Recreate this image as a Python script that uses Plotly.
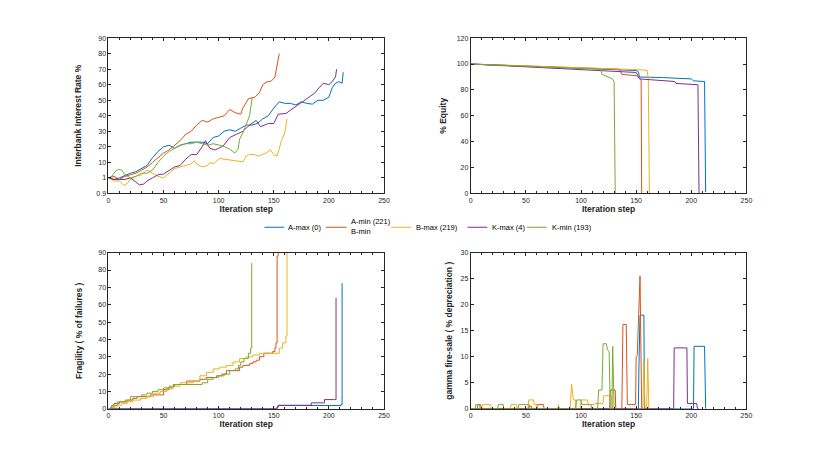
import plotly.graph_objects as go
from plotly.subplots import make_subplots

# series names / colours (MATLAB default order)
names = ["A-max (0)", "A-min (221)<br>B-min", "B-max (219)", "K-max (4)", "K-min (193)"]
colors = ["#0072BD", "#D95319", "#EDB120", "#7E2F8E", "#77AC30"]

# ---- interbank interest rate (axis position units, tick 0 is labelled "1")
rate_x_amax = [0, 5, 10, 15, 20, 25, 30, 35, 40, 45, 50, 55, 60, 65, 70, 75, 80, 85, 90, 95, 100, 105, 110,
               115, 120, 125, 130, 135, 140, 145, 150, 155, 160, 165, 170, 175, 180, 185, 190, 195, 200, 203,
               206, 209, 212, 213]
rate_y_amax = [0, -1, 0, 1.7, 3, 4, 6, 8, 13, 17, 20, 21, 19, 21, 22, 23, 23, 23, 22, 26, 27, 30, 31,
               30, 32, 34, 34, 35, 38, 40, 45, 49, 48, 48, 47, 49, 48, 47.5, 50, 50, 52, 58,
               61, 62, 61, 68]
rate_x_amin = [0, 5, 10, 15, 20, 25, 30, 35, 40, 45, 50, 55, 60, 65, 70, 75, 80, 85, 90, 95, 100, 105, 110,
               115, 120, 122, 127, 133, 137, 140, 143, 148, 151, 153, 155]
rate_y_amin = [0, 1, -1, 1, 2, 3, 5, 7, 10, 13, 16, 18, 21, 24, 28, 30, 34, 37, 36, 38, 39, 40, 44,
               42, 41, 45, 51, 52, 55, 60, 61.6, 62.5, 65, 73, 80]
rate_x_bmax = [0, 3, 5, 10, 14, 18, 20, 25, 30, 35, 40, 45, 50, 55, 60, 65, 70, 75, 78, 80, 85, 90, 92, 95,
               101, 105, 110, 115, 122, 125, 128, 132, 136, 140, 143, 147, 150, 153, 155, 157, 160, 162]
rate_y_bmax = [0, -1, -2, -2, -5, -3, -1, 1, 2, 5, 3, 1, 0, 3, 6, 7, 8, 9, 11, 9, 7, 8, 10, 9,
               12.5, 12, 11.6, 11, 10.4, 14, 15.2, 15, 14, 15, 16, 18, 15, 14, 20, 24, 29, 38]
rate_x_kmax = [0, 5, 10, 15, 20, 25, 28, 32, 35, 40, 45, 50, 55, 60, 65, 70, 75, 80, 85, 88, 92, 97, 104,
               110, 116, 122, 128, 134, 138, 145, 150, 154, 161, 166, 170, 175, 179, 182, 187, 191, 195,
               200, 203, 206, 207]
rate_y_kmax = [0, -1, -1, -1, 0, -3, -4.5, -4, -2, 0, 2, 2.5, 5, 7, 8, 12, 15, 15, 20, 24, 19, 18, 20.5,
               26, 28, 30, 34, 37, 33, 35, 35, 41, 41.5, 44, 45.6, 48, 50, 52, 54.5, 58, 61,
               60, 62, 65, 70]
rate_x_kmin = [0, 3, 6, 9, 12, 15, 20, 25, 30, 35, 40, 45, 50, 55, 60, 65, 70, 75, 80, 85, 90, 95, 100,
               104, 110, 114.6, 117.6, 119, 122, 125, 128, 130.5]
rate_y_kmin = [0, 1, 4, 5.5, 5, 2, 0, 1, 3, 3, 5, 10, 14, 17, 19, 21, 22, 22, 23, 22, 21, 22, 21,
               20.5, 18.5, 16, 18.5, 25, 29, 35, 40, 52]
rate_tickvals = [-10, 0, 10, 20, 30, 40, 50, 60, 70, 80, 90]
rate_ticktext = ["0.9", "1", "10", "20", "30", "40", "50", "60", "70", "80", "90"]

# ---- % equity
eq_x_amax = [0, 50, 100, 150, 152, 153, 175, 200, 202, 212, 213]
eq_y_amax = [100, 98.5, 96.5, 95, 94, 90, 89.5, 88.5, 87, 86.5, 1]
eq_x_amin = [0, 50, 100, 135, 137, 150, 153, 154.5, 155]
eq_y_amin = [100, 98.5, 97, 96, 92, 91, 89, 88, 0]
eq_x_bmax = [0, 50, 100, 155, 160, 161, 162]
eq_y_bmax = [100, 98.7, 97, 95.5, 95, 88, 0]
eq_x_kmax = [0, 50, 100, 150, 153, 185, 186, 206, 207]
eq_y_kmax = [100, 98, 96, 93.5, 88.5, 86.5, 85, 84, 0]
eq_x_kmin = [0, 50, 100, 118, 119, 122, 127, 129, 130, 131]
eq_y_kmin = [100, 98.5, 96.5, 96, 92, 91, 89, 88, 86, 0]

# ---- fragility (% of failures), stair steps
fr_x_amax = [0, 152, 153, 154, 209, 211, 212]
fr_y_amax = [0, 0, 1, 1.9, 1.9, 2.5, 72.4]
fr_x_amin = [0, 3, 5, 10, 17, 22, 26, 38, 47, 50, 55, 59, 65, 71, 83, 89, 98, 103, 107, 116, 119, 122,
             128, 131, 134, 137, 141, 149, 151, 152, 153, 154]
fr_y_amin = [0, 2, 3, 4, 5, 6, 7, 8, 8, 11, 12, 14, 14, 16, 17, 18, 19, 20, 22, 22, 24, 25,
             26, 27, 28, 30, 32, 33, 35, 38, 88, 95]
fr_x_bmax = [0, 5, 8, 12, 17, 22, 29, 35, 41, 47, 53, 59, 65, 77, 83, 89, 95, 101, 107, 113, 119, 125,
             131, 137, 152, 155, 158, 161, 162]
fr_y_bmax = [0, 1, 2, 3, 4, 5, 6, 7, 9, 10, 12, 13, 15, 16, 19, 21, 23, 24, 25, 27, 29, 30,
             31, 32, 32, 35, 38, 42, 95]
fr_x_kmax = [0, 152, 153, 154, 183, 184, 195, 196, 205, 206.5]
fr_y_kmax = [0, 0, 1, 2, 2, 3.4, 3.4, 5.3, 5.3, 64]
fr_x_kmin = [0, 2, 5, 8, 10, 15, 20, 25, 30, 35, 40, 45, 50, 55, 60, 70, 80, 85, 90, 95, 100, 105,
             110, 115, 118, 120, 123, 127, 129, 130]
fr_y_kmin = [0, 1, 2, 4, 4, 5, 7, 7, 8, 9, 10, 11, 12, 13, 14, 14, 14, 15, 17, 18, 19, 20,
             22, 23, 25, 27, 29, 32, 35, 84]

# ---- gamma fire-sale (% depreciation)
gm_x_amax = [0, 152, 152.5, 153.5, 157, 157.5, 202, 202.5, 212, 212.5, 213]
gm_y_amax = [0, 0, 8, 18, 18, 0, 0, 12, 12, 0, 0]
gm_x_amin = [0, 6, 6.5, 9, 9.5, 52, 52.5, 55, 55.5, 60, 60.5, 66, 66.5, 126, 126.5, 131, 131.5, 137, 138,
             141, 142, 149.5, 150, 151, 153.5, 154.5, 155]
gm_y_amin = [0, 0, 0.8, 0.8, 0, 0, 0.5, 0.5, 0, 0, 0.8, 0.8, 0, 0, 3.6, 3.6, 0, 0, 16.2,
             16.2, 0.8, 0.8, 10, 10.3, 25.5, 0, 0]
gm_x_bmax = [0, 10, 10.5, 18, 18.5, 36, 36.5, 41.5, 42, 52, 52.5, 57, 57.5, 60, 60.5, 79, 79.5, 80.5, 90,
             91.5, 93, 95, 95.5, 99.5, 100, 106, 106.5, 112, 112.5, 120, 120.5, 128, 128.5, 156, 157,
             158, 159.5, 160.5, 161.5, 162]
gm_y_bmax = [0, 0, 0.8, 0.8, 0, 0, 0.8, 0.8, 0, 0, 1.7, 1.7, 0.8, 0.8, 0, 0, 0.8, 0, 0,
             4.7, 1.7, 1.7, 0, 0, 1.7, 1.7, 0.8, 0.8, 1, 1, 2.5, 2.5, 0, 0, 9,
             0, 0, 9.7, 0, 0]
gm_x_kmax = [0, 184, 184.5, 196, 196.5, 205, 205.5, 207]
gm_y_kmax = [0, 0, 11.7, 11.7, 1, 1, 0, 0]
gm_x_kmin = [0, 4, 4.5, 8, 8.5, 24.5, 25, 29.5, 30, 43, 43.5, 53, 53.5, 95, 96, 100, 100.5, 109, 109.5,
             115, 116, 119, 120, 123, 124, 125.5, 126.5, 128, 128.7, 129.6, 130]
gm_y_kmin = [0, 0, 0.8, 0.8, 0, 0, 0.8, 0.8, 0, 0, 0.8, 0.8, 0, 0, 1.7, 1.7, 0.8, 0.8, 0,
             0, 3.6, 3.6, 12.5, 12.5, 11.3, 11, 0, 0, 12, 0, 0]

panels = [
    (1, 1, [(rate_x_amax, rate_y_amax), (rate_x_amin, rate_y_amin), (rate_x_bmax, rate_y_bmax),
            (rate_x_kmax, rate_y_kmax), (rate_x_kmin, rate_y_kmin)], "linear"),
    (1, 2, [(eq_x_amax, eq_y_amax), (eq_x_amin, eq_y_amin), (eq_x_bmax, eq_y_bmax),
            (eq_x_kmax, eq_y_kmax), (eq_x_kmin, eq_y_kmin)], "linear"),
    (2, 1, [(fr_x_amax, fr_y_amax), (fr_x_amin, fr_y_amin), (fr_x_bmax, fr_y_bmax),
            (fr_x_kmax, fr_y_kmax), (fr_x_kmin, fr_y_kmin)], "hv"),
    (2, 2, [(gm_x_amax, gm_y_amax), (gm_x_amin, gm_y_amin), (gm_x_bmax, gm_y_bmax),
            (gm_x_kmax, gm_y_kmax), (gm_x_kmin, gm_y_kmin)], "linear"),
]

W, H = 830, 462
fig = make_subplots(rows=2, cols=2)

for row, col, series, shape in panels:
    for i, (xs, ys) in enumerate(series):
        fig.add_trace(go.Scatter(x=xs, y=ys, mode="lines", name=names[i],
                                 line=dict(color=colors[i], width=1, shape=shape),
                                 legendgroup=names[i], showlegend=False),
                      row=row, col=col)

axcol = "#262626"
fam = "Liberation Sans, Arial"
tickfont = dict(family=fam, size=7, color=axcol)
titlefont = dict(family=fam, size=8.5, color=axcol)

xdom = {1: [107.5 / W, 385.7 / W], 2: [473.3 / W, 751.7 / W]}
ydom = {1: [1 - 192.3 / H, 1 - 34.7 / H], 2: [1 - 411 / H, 1 - 252.5 / H]}

for r in (1, 2):
    for c in (1, 2):
        fig.update_xaxes(domain=xdom[c], range=[0, 250], dtick=50, ticks="inside", ticklen=3,
                         tickcolor=axcol, showline=True, linecolor=axcol, linewidth=1, mirror="allticks",
                         showgrid=False, zeroline=False, tickfont=tickfont,
                         minor=dict(dtick=10, ticks="inside", ticklen=2, tickcolor=axcol, showgrid=False),
                         title=dict(text="<b>Iteration step</b>", font=titlefont, standoff=0),
                         row=r, col=c)
        fig.update_yaxes(domain=ydom[r], ticks="inside", ticklen=3, tickcolor=axcol, showline=True,
                         linecolor=axcol, linewidth=1, mirror="allticks", showgrid=False, zeroline=False,
                         tickfont=tickfont, row=r, col=c)

fig.update_yaxes(range=[-10, 90], tickvals=rate_tickvals, ticktext=rate_ticktext,
                 title=dict(text="<b>Interbank Interest Rate %</b>", font=titlefont, standoff=13), row=1, col=1)
fig.update_yaxes(range=[0, 120], dtick=20,
                 title=dict(text="<b>% Equity</b>", font=titlefont, standoff=8), row=1, col=2)
fig.update_yaxes(range=[0, 90], dtick=10,
                 title=dict(text="<b>Fragility ( % of failures )</b>", font=titlefont, standoff=14), row=2, col=1)
fig.update_yaxes(range=[0, 30], dtick=5,
                 title=dict(text="<b>gamma fire-sale ( % depreciation )</b>", font=titlefont, standoff=6),
                 row=2, col=2)

# shared legend, drawn as line samples plus labels between the two rows
leg_line_x = [(265, 285), (327, 348), (393, 413), (470, 490), (530, 550)]
leg_text_x = [287, 350, 416, 493, 553]
leg_y = 226.7
for i, name in enumerate(names):
    x0, x1 = leg_line_x[i]
    fig.add_shape(type="line", xref="paper", yref="paper", x0=x0 / W, x1=x1 / W,
                  y0=1 - leg_y / H, y1=1 - leg_y / H, line=dict(color=colors[i], width=1))
    ty = leg_y - 1.2 if "<br>" in name else leg_y
    fig.add_annotation(text=name, xref="paper", yref="paper", x=leg_text_x[i] / W, y=1 - ty / H,
                       xanchor="left", yanchor="middle", align="left", showarrow=False,
                       font=dict(family=fam, size=7.5, color="#000000"))

fig.update_layout(
    width=W, height=H,
    margin=dict(l=0, r=0, t=0, b=0),
    paper_bgcolor="white", plot_bgcolor="white",
    font=dict(family=fam, size=7, color=axcol),
    showlegend=False,
)

fig.write_html("out.html", config={"displayModeBar": False},
               post_script="document.body.style.margin='0px';")
